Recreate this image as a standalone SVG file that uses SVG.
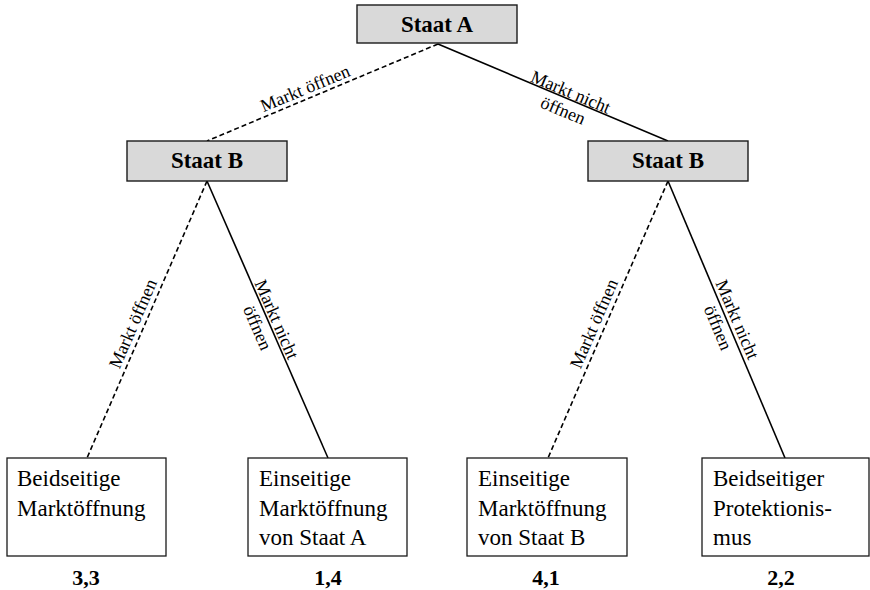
<svg xmlns="http://www.w3.org/2000/svg" width="870" height="590" viewBox="0 0 870 590">
<style>
.dec{fill:#d9d9d9;stroke:#1a1a1a;stroke-width:1.4}
.leaf{fill:#fff;stroke:#1a1a1a;stroke-width:1.3}
.solid{stroke:#000;stroke-width:1.6;fill:none}
.dash{stroke:#000;stroke-width:1.6;fill:none;stroke-dasharray:5 3}
</style>
<rect width="870" height="590" fill="#fff"/>
<g id="connectors">
<line class="dash" x1="438" y1="44" x2="207" y2="141"/>
<line class="solid" x1="438" y1="44" x2="668" y2="141"/>
<line class="dash" x1="207" y1="181" x2="87" y2="458"/>
<line class="solid" x1="207" y1="181" x2="328" y2="458"/>
<line class="dash" x1="668" y1="181" x2="548" y2="458"/>
<line class="solid" x1="668" y1="181" x2="785" y2="458"/>
<g font-family="Liberation Serif" font-size="18" text-anchor="middle" fill="#000">
<g transform="translate(309,97.6) rotate(-22.6)"><text y="-4">Markt öffnen</text></g>
<g transform="translate(568,98.5) rotate(22.7)"><text y="-1">Markt nicht</text><text y="19">öffnen</text></g>
<g transform="translate(143,328) rotate(-66.6)"><text y="-5">Markt öffnen</text></g>
<g transform="translate(269.4,322.6) rotate(66.4)"><text y="-2">Markt nicht</text><text y="19">öffnen</text></g>
<g transform="translate(604,328) rotate(-66.6)"><text y="-5">Markt öffnen</text></g>
<g transform="translate(730,322.6) rotate(67)"><text y="-2">Markt nicht</text><text y="19">öffnen</text></g>
</g>
</g>
<g font-family="Liberation Serif" font-weight="bold" font-size="23" text-anchor="middle" fill="#000">
<g id="staatA"><rect class="dec" x="357" y="5" width="160" height="38"/><text x="437" y="32">Staat A</text></g>
<g id="staatB1"><rect class="dec" x="127" y="141" width="160" height="40"/><text x="207" y="168">Staat B</text></g>
<g id="staatB2"><rect class="dec" x="588" y="141" width="160" height="40"/><text x="668" y="168">Staat B</text></g>
</g>
<g font-family="Liberation Serif" font-size="23" fill="#000">
<g id="leaf1"><rect class="leaf" x="7" y="458" width="159" height="98"/><text x="17" y="486">Beidseitige</text><text x="17" y="516">Marktöffnung</text><text x="86" y="585" font-weight="bold" font-size="22" text-anchor="middle">3,3</text></g>
<g id="leaf2"><rect class="leaf" x="248" y="458" width="159" height="98"/><text x="259" y="486">Einseitige</text><text x="259" y="516">Marktöffnung</text><text x="259" y="545">von Staat A</text><text x="328" y="585" font-weight="bold" font-size="22" text-anchor="middle">1,4</text></g>
<g id="leaf3"><rect class="leaf" x="467" y="458" width="160" height="98"/><text x="478" y="486">Einseitige</text><text x="478" y="516">Marktöffnung</text><text x="478" y="545">von Staat B</text><text x="546" y="585" font-weight="bold" font-size="22" text-anchor="middle">4,1</text></g>
<g id="leaf4"><rect class="leaf" x="702" y="458" width="167" height="98"/><text x="713" y="486">Beidseitiger</text><text x="713" y="516">Protektionis-</text><text x="713" y="545">mus</text><text x="781" y="585" font-weight="bold" font-size="22" text-anchor="middle">2,2</text></g>
</g>
</svg>
